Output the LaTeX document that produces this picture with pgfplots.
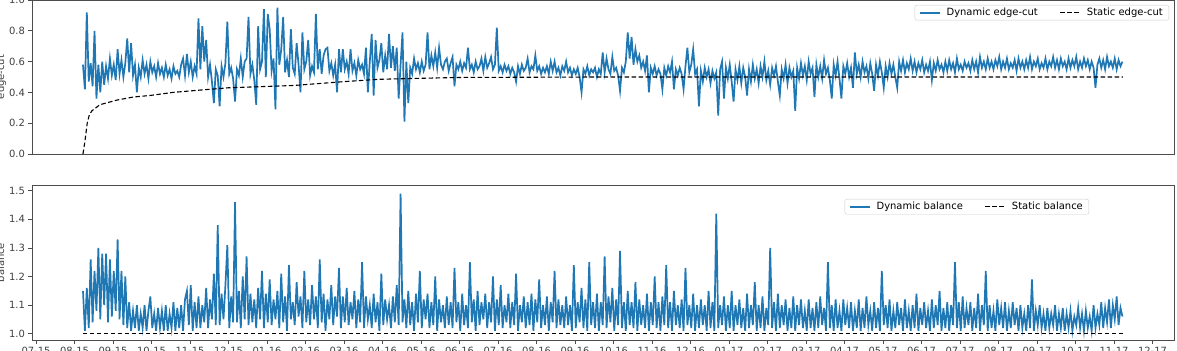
\documentclass[border=0pt]{standalone}
\usepackage{fontspec}
\setmainfont{DejaVu Sans}
\usepackage{pgfplots}
\usepackage{pgfplotstable}
\pgfplotsset{compat=1.18}
\definecolor{mplblue}{HTML}{1F77B4}

\pgfplotstableread[row sep=\\]{
y\\
0.58\\0.42\\0.92\\0.47\\0.59\\0.44\\0.80\\0.36\\0.58\\0.40\\
0.60\\0.45\\0.57\\0.49\\0.62\\0.51\\0.58\\0.48\\0.68\\0.52\\
0.61\\0.50\\0.59\\0.75\\0.53\\0.72\\0.51\\0.58\\0.40\\0.56\\
0.50\\0.61\\0.52\\0.58\\0.49\\0.60\\0.53\\0.57\\0.50\\0.59\\
0.52\\0.56\\0.50\\0.58\\0.51\\0.55\\0.49\\0.57\\0.52\\0.54\\
0.50\\0.58\\0.62\\0.51\\0.65\\0.53\\0.60\\0.50\\0.57\\0.52\\
0.88\\0.55\\0.83\\0.60\\0.74\\0.50\\0.58\\0.47\\0.33\\0.55\\
0.51\\0.31\\0.57\\0.50\\0.59\\0.86\\0.52\\0.56\\0.49\\0.34\\
0.55\\0.51\\0.62\\0.50\\0.60\\0.62\\0.89\\0.52\\0.58\\0.48\\
0.32\\0.83\\0.55\\0.60\\0.94\\0.50\\0.91\\0.81\\0.54\\0.62\\
0.29\\0.95\\0.58\\0.68\\0.89\\0.53\\0.61\\0.50\\0.81\\0.56\\
0.52\\0.72\\0.58\\0.40\\0.79\\0.55\\0.60\\0.74\\0.51\\0.57\\
0.53\\0.91\\0.55\\0.68\\0.52\\0.64\\0.68\\0.69\\0.54\\0.59\\
0.51\\0.58\\0.40\\0.68\\0.53\\0.68\\0.55\\0.60\\0.52\\0.68\\
0.54\\0.59\\0.51\\0.61\\0.55\\0.58\\0.52\\0.69\\0.40\\0.60\\
0.78\\0.38\\0.74\\0.56\\0.61\\0.72\\0.53\\0.64\\0.55\\0.78\\
0.56\\0.70\\0.54\\0.69\\0.36\\0.58\\0.79\\0.21\\0.60\\0.33\\
0.56\\0.52\\0.62\\0.55\\0.59\\0.53\\0.60\\0.54\\0.58\\0.79\\
0.55\\0.64\\0.57\\0.66\\0.56\\0.69\\0.58\\0.55\\0.60\\0.62\\
0.54\\0.59\\0.63\\0.44\\0.58\\0.55\\0.60\\0.54\\0.59\\0.56\\
0.69\\0.55\\0.58\\0.53\\0.60\\0.55\\0.57\\0.62\\0.54\\0.63\\
0.56\\0.59\\0.63\\0.55\\0.58\\0.82\\0.54\\0.57\\0.53\\0.58\\
0.54\\0.57\\0.52\\0.56\\0.53\\0.47\\0.57\\0.52\\0.58\\0.54\\
0.56\\0.62\\0.53\\0.57\\0.55\\0.64\\0.54\\0.57\\0.52\\0.56\\
0.53\\0.57\\0.52\\0.60\\0.54\\0.60\\0.53\\0.56\\0.51\\0.57\\
0.54\\0.60\\0.53\\0.56\\0.51\\0.55\\0.52\\0.56\\0.50\\0.40\\
0.55\\0.52\\0.57\\0.51\\0.55\\0.53\\0.56\\0.50\\0.55\\0.52\\
0.66\\0.53\\0.62\\0.55\\0.52\\0.63\\0.54\\0.56\\0.51\\0.41\\
0.56\\0.53\\0.60\\0.79\\0.62\\0.76\\0.58\\0.68\\0.60\\0.64\\
0.56\\0.60\\0.54\\0.64\\0.40\\0.56\\0.52\\0.57\\0.51\\0.55\\
0.52\\0.42\\0.56\\0.51\\0.57\\0.53\\0.60\\0.42\\0.55\\0.51\\
0.56\\0.52\\0.42\\0.57\\0.69\\0.53\\0.58\\0.68\\0.52\\0.55\\
0.31\\0.54\\0.47\\0.56\\0.50\\0.55\\0.46\\0.54\\0.49\\0.53\\
0.25\\0.55\\0.60\\0.36\\0.56\\0.49\\0.58\\0.47\\0.34\\0.55\\
0.48\\0.57\\0.46\\0.56\\0.50\\0.38\\0.55\\0.47\\0.58\\0.49\\
0.55\\0.46\\0.57\\0.50\\0.60\\0.48\\0.54\\0.45\\0.56\\0.51\\
0.57\\0.47\\0.38\\0.55\\0.49\\0.58\\0.46\\0.56\\0.50\\0.54\\
0.28\\0.56\\0.49\\0.59\\0.51\\0.57\\0.48\\0.60\\0.52\\0.56\\
0.37\\0.58\\0.50\\0.57\\0.49\\0.61\\0.52\\0.56\\0.48\\0.36\\
0.58\\0.51\\0.60\\0.49\\0.36\\0.57\\0.52\\0.59\\0.50\\0.56\\
0.43\\0.66\\0.52\\0.58\\0.50\\0.60\\0.53\\0.57\\0.49\\0.59\\
0.52\\0.41\\0.58\\0.51\\0.60\\0.53\\0.43\\0.57\\0.50\\0.59\\
0.52\\0.58\\0.50\\0.43\\0.60\\0.54\\0.61\\0.53\\0.59\\0.55\\
0.62\\0.54\\0.60\\0.53\\0.59\\0.55\\0.61\\0.53\\0.58\\0.54\\
0.60\\0.48\\0.59\\0.54\\0.61\\0.55\\0.58\\0.53\\0.60\\0.54\\
0.61\\0.55\\0.59\\0.53\\0.62\\0.55\\0.58\\0.54\\0.60\\0.56\\
0.59\\0.54\\0.61\\0.55\\0.60\\0.53\\0.63\\0.56\\0.60\\0.55\\
0.62\\0.56\\0.60\\0.55\\0.61\\0.57\\0.63\\0.55\\0.60\\0.56\\
0.62\\0.55\\0.59\\0.56\\0.61\\0.54\\0.62\\0.56\\0.60\\0.55\\
0.61\\0.56\\0.63\\0.55\\0.60\\0.57\\0.62\\0.55\\0.59\\0.56\\
0.62\\0.55\\0.60\\0.57\\0.63\\0.56\\0.61\\0.55\\0.62\\0.57\\
0.60\\0.55\\0.62\\0.56\\0.61\\0.57\\0.63\\0.55\\0.60\\0.56\\
0.62\\0.57\\0.61\\0.55\\0.60\\0.56\\0.43\\0.58\\0.62\\0.56\\
0.61\\0.55\\0.63\\0.57\\0.60\\0.56\\0.62\\0.55\\0.61\\0.57\\
0.60\\
}\dyncut

\pgfplotstableread[row sep=\\]{
y\\
1.15\\1.01\\1.16\\1.02\\1.26\\1.04\\1.22\\1.08\\1.30\\1.05\\
1.28\\1.10\\1.28\\1.04\\1.26\\1.06\\1.22\\1.08\\1.33\\1.05\\
1.22\\1.03\\1.20\\1.02\\1.11\\1.01\\1.08\\1.02\\1.10\\1.01\\
1.07\\1.02\\1.10\\1.01\\1.08\\1.13\\1.02\\1.07\\1.01\\1.09\\
1.02\\1.08\\1.01\\1.10\\1.01\\1.07\\1.02\\1.11\\1.01\\1.09\\
1.02\\1.10\\1.01\\1.12\\1.15\\1.03\\1.17\\1.01\\1.11\\1.02\\
1.13\\1.02\\1.10\\1.04\\1.16\\1.02\\1.12\\1.05\\1.21\\1.03\\
1.38\\1.03\\1.14\\1.05\\1.17\\1.31\\1.02\\1.13\\1.04\\1.46\\
1.04\\1.15\\1.02\\1.20\\1.05\\1.27\\1.03\\1.14\\1.04\\1.12\\
1.02\\1.16\\1.05\\1.22\\1.02\\1.14\\1.04\\1.19\\1.03\\1.12\\
1.05\\1.15\\1.02\\1.21\\1.04\\1.13\\1.01\\1.24\\1.05\\1.11\\
1.03\\1.18\\1.06\\1.13\\1.02\\1.22\\1.04\\1.12\\1.03\\1.17\\
1.05\\1.13\\1.02\\1.26\\1.04\\1.14\\1.01\\1.12\\1.05\\1.17\\
1.03\\1.13\\1.06\\1.23\\1.02\\1.13\\1.04\\1.16\\1.03\\1.11\\
1.05\\1.15\\1.02\\1.12\\1.04\\1.25\\1.02\\1.13\\1.05\\1.10\\
1.02\\1.14\\1.04\\1.11\\1.01\\1.21\\1.03\\1.12\\1.05\\1.10\\
1.02\\1.13\\1.04\\1.17\\1.03\\1.49\\1.04\\1.12\\1.02\\1.15\\
1.03\\1.11\\1.01\\1.14\\1.04\\1.22\\1.02\\1.12\\1.05\\1.14\\
1.02\\1.11\\1.03\\1.20\\1.01\\1.12\\1.04\\1.10\\1.02\\1.13\\
1.03\\1.11\\1.02\\1.23\\1.04\\1.11\\1.01\\1.14\\1.03\\1.10\\
1.02\\1.25\\1.04\\1.12\\1.01\\1.15\\1.03\\1.11\\1.05\\1.14\\
1.02\\1.11\\1.04\\1.20\\1.01\\1.12\\1.03\\1.17\\1.02\\1.10\\
1.04\\1.14\\1.02\\1.11\\1.03\\1.21\\1.01\\1.10\\1.04\\1.13\\
1.02\\1.11\\1.03\\1.14\\1.01\\1.12\\1.04\\1.19\\1.02\\1.10\\
1.03\\1.13\\1.01\\1.11\\1.04\\1.22\\1.02\\1.12\\1.03\\1.10\\
1.02\\1.13\\1.03\\1.10\\1.01\\1.24\\1.02\\1.11\\1.04\\1.16\\
1.02\\1.12\\1.01\\1.25\\1.03\\1.11\\1.02\\1.14\\1.01\\1.11\\
1.03\\1.27\\1.02\\1.13\\1.04\\1.16\\1.01\\1.12\\1.03\\1.29\\
1.02\\1.11\\1.01\\1.15\\1.03\\1.11\\1.02\\1.18\\1.01\\1.12\\
1.03\\1.10\\1.02\\1.14\\1.01\\1.11\\1.03\\1.20\\1.02\\1.11\\
1.01\\1.13\\1.03\\1.24\\1.02\\1.11\\1.01\\1.15\\1.03\\1.10\\
1.02\\1.12\\1.01\\1.23\\1.03\\1.10\\1.02\\1.14\\1.01\\1.10\\
1.02\\1.12\\1.03\\1.10\\1.01\\1.15\\1.02\\1.11\\1.01\\1.42\\
1.02\\1.10\\1.03\\1.13\\1.01\\1.10\\1.02\\1.15\\1.01\\1.10\\
1.03\\1.12\\1.02\\1.09\\1.01\\1.14\\1.02\\1.10\\1.03\\1.18\\
1.01\\1.10\\1.02\\1.13\\1.01\\1.09\\1.03\\1.30\\1.02\\1.11\\
1.01\\1.14\\1.02\\1.10\\1.03\\1.12\\1.01\\1.09\\1.02\\1.13\\
1.01\\1.10\\1.03\\1.12\\1.02\\1.08\\1.01\\1.12\\1.02\\1.09\\
1.01\\1.11\\1.02\\1.13\\1.03\\1.09\\1.01\\1.25\\1.02\\1.10\\
1.01\\1.12\\1.02\\1.08\\1.01\\1.12\\1.03\\1.09\\1.02\\1.11\\
1.01\\1.08\\1.02\\1.12\\1.01\\1.09\\1.02\\1.13\\1.03\\1.08\\
1.01\\1.11\\1.02\\1.09\\1.01\\1.22\\1.03\\1.10\\1.02\\1.12\\
1.01\\1.08\\1.02\\1.11\\1.03\\1.09\\1.01\\1.12\\1.02\\1.08\\
1.01\\1.10\\1.02\\1.14\\1.01\\1.09\\1.03\\1.11\\1.02\\1.08\\
1.01\\1.12\\1.02\\1.10\\1.03\\1.15\\1.01\\1.09\\1.02\\1.11\\
1.01\\1.10\\1.03\\1.25\\1.02\\1.11\\1.01\\1.13\\1.02\\1.09\\
1.03\\1.11\\1.01\\1.09\\1.02\\1.14\\1.01\\1.10\\1.03\\1.22\\
1.01\\1.10\\1.02\\1.08\\1.01\\1.12\\1.03\\1.09\\1.02\\1.11\\
1.01\\1.08\\1.02\\1.11\\1.03\\1.09\\1.01\\1.10\\1.02\\1.07\\
1.01\\1.10\\1.02\\1.19\\1.01\\1.08\\1.03\\1.10\\1.02\\1.07\\
1.01\\1.09\\1.02\\1.07\\1.03\\1.10\\1.01\\1.07\\1.02\\1.09\\
1.01\\1.07\\1.02\\1.08\\1.01\\1.06\\1.03\\1.09\\1.02\\1.07\\
1.01\\1.08\\1.02\\1.06\\1.01\\1.10\\1.02\\1.07\\1.03\\1.11\\
1.02\\1.09\\1.04\\1.12\\1.02\\1.10\\1.05\\1.13\\1.03\\1.09\\
1.06\\
}\dynbal

\pgfplotsset{
  mybase/.style={
    scale only axis, width=1142bp, height=155bp,
    xmin=-0.104, xmax=29.56,
    axis line style={black!70, line width=0.9bp},
    tick align=outside, major tick length=3.5bp,
    tick style={black!70, line width=0.8bp},
    tick label style={font=\fontsize{10}{12}\selectfont, text=black!75},
    label style={font=\fontsize{10}{12}\selectfont, text=black!75},
    xtick pos=left, ytick pos=left,
    legend columns=2,
    legend style={font=\fontsize{10}{12}\selectfont, draw=black!20, rounded corners=2bp,
      fill=white, fill opacity=0.8, text opacity=1, inner xsep=4bp, inner ysep=1bp,
      /tikz/every odd column/.append style={column sep=4bp},
      /tikz/every even column/.append style={column sep=20bp}},
    legend image code/.code={\draw[##1] (0bp,0bp) -- (20bp,0bp);},
    ylabel style={at={(axis description cs:-0.0245,0.5)}, anchor=base},
  },
}

\begin{document}%
\raisebox{0pt}[0pt][351bp]{%
\begin{tikzpicture}[trim left=0bp, trim right=1177bp, baseline=0bp]
\begin{axis}[mybase,
  at={(32bp,0bp)}, anchor=north west, height=154bp,
  ymin=0, ymax=1,
  ytick={0,0.2,0.4,0.6,0.8,1.0},
  yticklabels={0.0,0.2,0.4,0.6,0.8,1.0},
  xtick=\empty,
  ylabel={edge-cut},
  legend style={at={(rel axis cs:0.9956,0.968)}, anchor=north east},
]
\addplot[mplblue, line width=1.7bp] table[x expr=1.22+0.05*\coordindex, y=y] {\dyncut};
\addlegendentry{Dynamic edge-cut}
\addplot[black, line width=1.1bp, dash pattern=on 4.5bp off 2.5bp] coordinates {
(1.22,0.0) (1.27,0.08) (1.33,0.20) (1.38,0.25) (1.45,0.28) (1.66,0.32) (2.10,0.35)
(2.53,0.37) (2.96,0.38) (3.56,0.40) (4.26,0.415) (5.0,0.43) (6.7,0.445) (8.0,0.47)
(8.9,0.485) (9.7,0.49) (11.0,0.497) (14.6,0.50) (28.23,0.50)};
\addlegendentry{Static edge-cut}
\end{axis}
\begin{axis}[mybase,
  at={(32bp,-185bp)}, anchor=north west,
  ymin=0.978, ymax=1.520,
  ytick={1.0,1.1,1.2,1.3,1.4,1.5},
  yticklabels={1.0,1.1,1.2,1.3,1.4,1.5},
  xtick={0,...,29},
  xticklabels={07-15,08-15,09-15,10-15,11-15,12-15,01-16,02-16,03-16,04-16,05-16,06-16,07-16,08-16,09-16,10-16,11-16,12-16,01-17,02-17,03-17,04-17,05-17,06-17,07-17,08-17,09-17,10-17,11-17,12-17},
  ylabel={balance},
  legend style={at={(rel axis cs:0.9256,0.9097)}, anchor=north east},
]
\addplot[mplblue, line width=1.7bp] table[x expr=1.22+0.05*\coordindex, y=y] {\dynbal};
\addlegendentry{Dynamic balance}
\addplot[black, line width=1.1bp, dash pattern=on 4.5bp off 2.5bp] coordinates {(1.22,1.0) (28.23,1.0)};
\addlegendentry{Static balance}
\end{axis}
\end{tikzpicture}}%
\end{document}
